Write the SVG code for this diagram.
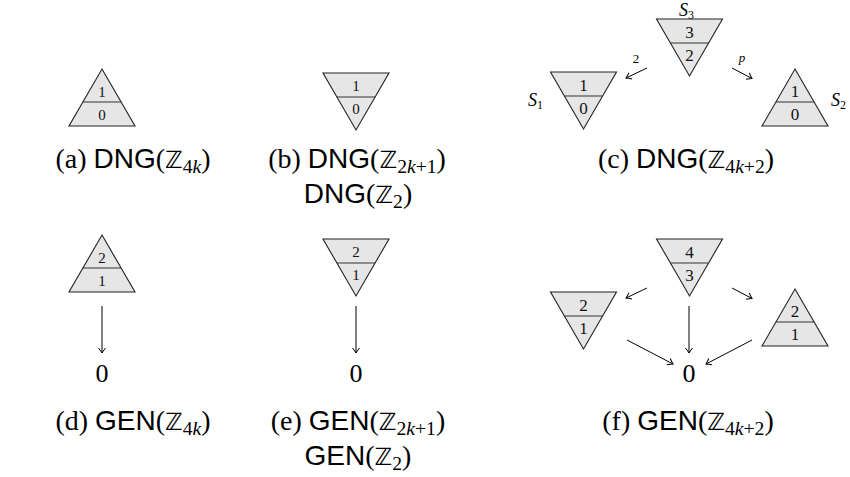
<svg xmlns="http://www.w3.org/2000/svg" width="850" height="477" viewBox="0 0 850 477">
<style>
.tri{fill:#e6e6e6;stroke:#222;stroke-width:1.1}
.div{stroke:#333;stroke-width:1.1;fill:none}
.lab{font-family:"Liberation Serif",serif;text-anchor:middle;fill:#111}
.s14{font-size:15px}
.s17{font-size:17px}
.capL{font-size:28px;text-anchor:middle;fill:#000}
.rm{font-family:"Liberation Serif",serif}
.sf{font-family:"Liberation Sans",sans-serif}
.bb{font-family:"DejaVu Sans",sans-serif;font-size:0.85em}
.sub{font-family:"Liberation Serif",serif;font-size:0.7em}
.it{font-style:italic}
.zero{font-family:"Liberation Serif",serif;font-size:26px;text-anchor:middle}
.arr{stroke:#000;stroke-width:1;fill:none;marker-end:url(#to)}
.sml{font-family:"Liberation Serif",serif;font-size:13px;text-anchor:middle}
.sl{font-family:"Liberation Serif",serif;font-size:18px;font-style:italic}
</style>
<defs>
<marker id="to" viewBox="-6 -5 8 10" markerWidth="8" markerHeight="10" refX="0" refY="0" orient="auto" markerUnits="userSpaceOnUse">
<path d="M-5,-3.5 Q-1.5,-0.8 0,0 Q-1.5,0.8 -5,3.5" fill="none" stroke="#000" stroke-width="1"/>
</marker>
</defs>

<!-- (a) -->
<g id="a-node">
<path class="tri" d="M102,69 L135,126 L69,126 Z"/>
<line class="div" x1="82.9" y1="102" x2="121.1" y2="102"/>
<text class="lab s14" x="102" y="96.5">1</text>
<text class="lab s14" x="102" y="119.5">0</text>
</g>
<text id="a-cap" class="capL" x="133" y="168"><tspan class="rm">(a) </tspan><tspan class="sf">DNG</tspan><tspan class="rm">(</tspan><tspan class="bb">ℤ</tspan><tspan class="sub" dy="5">4<tspan class="it">k</tspan></tspan><tspan class="rm" dy="-5">)</tspan></text>

<!-- (b) -->
<g id="b-node">
<path class="tri" d="M323,73 L389,73 L356,130 Z"/>
<line class="div" x1="336.9" y1="97" x2="375.1" y2="97"/>
<text class="lab s14" x="356" y="91">1</text>
<text class="lab s14" x="356" y="114">0</text>
</g>
<text id="b-cap1" class="capL" x="357" y="168"><tspan class="rm">(b) </tspan><tspan class="sf">DNG</tspan><tspan class="rm">(</tspan><tspan class="bb">ℤ</tspan><tspan class="sub" dy="5">2<tspan class="it">k</tspan>+1</tspan><tspan class="rm" dy="-5">)</tspan></text>
<text id="b-cap2" class="capL" x="358" y="203"><tspan class="sf">DNG</tspan><tspan class="rm">(</tspan><tspan class="bb">ℤ</tspan><tspan class="sub" dy="5">2</tspan><tspan class="rm" dy="-5">)</tspan></text>

<!-- (c) -->
<g id="c-s3">
<path class="tri" d="M656.5,19 L722.5,19 L689.5,76 Z"/>
<line class="div" x1="670.4" y1="43" x2="708.6" y2="43"/>
<text class="lab s17" x="689.5" y="37.5">3</text>
<text class="lab s17" x="689.5" y="60.5">2</text>
<text class="sl" x="679" y="16">S<tspan font-size="12" font-style="normal" dy="3">3</tspan></text>
</g>
<g id="c-s1">
<path class="tri" d="M550.5,72 L616.5,72 L583.5,129 Z"/>
<line class="div" x1="564.4" y1="96" x2="602.6" y2="96"/>
<text class="lab s17" x="583.5" y="90.5">1</text>
<text class="lab s17" x="583.5" y="113.5">0</text>
<text class="sl" x="528" y="106">S<tspan font-size="12" font-style="normal" dy="3">1</tspan></text>
</g>
<g id="c-s2">
<path class="tri" d="M795,69 L828,126 L762,126 Z"/>
<line class="div" x1="775.9" y1="102" x2="814.1" y2="102"/>
<text class="lab s17" x="795" y="96.5">1</text>
<text class="lab s17" x="795" y="119.5">0</text>
<text class="sl" x="831" y="106">S<tspan font-size="12" font-style="normal" dy="3">2</tspan></text>
</g>
<g id="c-edges">
<line class="arr" x1="647" y1="68" x2="626" y2="78"/>
<line class="arr" x1="732" y1="68" x2="752" y2="78.5"/>
<text class="sml" x="636" y="63">2</text>
<text class="sml it" x="742" y="62">p</text>
</g>
<text id="c-cap" class="capL" x="686" y="168"><tspan class="rm">(c) </tspan><tspan class="sf">DNG</tspan><tspan class="rm">(</tspan><tspan class="bb">ℤ</tspan><tspan class="sub" dy="5">4<tspan class="it">k</tspan>+2</tspan><tspan class="rm" dy="-5">)</tspan></text>

<!-- (d) -->
<g id="d-node">
<path class="tri" d="M102,235 L135,292 L69,292 Z"/>
<line class="div" x1="82.9" y1="268" x2="121.1" y2="268"/>
<text class="lab s14" x="102" y="262.5">2</text>
<text class="lab s14" x="102" y="285.5">1</text>
</g>
<g id="d-zero"><text class="zero" x="102" y="382">0</text></g>
<g id="d-edges"><line class="arr" x1="102" y1="306" x2="102" y2="353"/></g>
<text id="d-cap" class="capL" x="133" y="430"><tspan class="rm">(d) </tspan><tspan class="sf">GEN</tspan><tspan class="rm">(</tspan><tspan class="bb">ℤ</tspan><tspan class="sub" dy="5">4<tspan class="it">k</tspan></tspan><tspan class="rm" dy="-5">)</tspan></text>

<!-- (e) -->
<g id="e-node">
<path class="tri" d="M323,239 L389,239 L356,296 Z"/>
<line class="div" x1="336.9" y1="263" x2="375.1" y2="263"/>
<text class="lab s14" x="356" y="257">2</text>
<text class="lab s14" x="356" y="280">1</text>
</g>
<g id="e-zero"><text class="zero" x="356" y="382">0</text></g>
<g id="e-edges"><line class="arr" x1="356" y1="306" x2="356" y2="353"/></g>
<text id="e-cap1" class="capL" x="358" y="430"><tspan class="rm">(e) </tspan><tspan class="sf">GEN</tspan><tspan class="rm">(</tspan><tspan class="bb">ℤ</tspan><tspan class="sub" dy="5">2<tspan class="it">k</tspan>+1</tspan><tspan class="rm" dy="-5">)</tspan></text>
<text id="e-cap2" class="capL" x="358" y="465"><tspan class="sf">GEN</tspan><tspan class="rm">(</tspan><tspan class="bb">ℤ</tspan><tspan class="sub" dy="5">2</tspan><tspan class="rm" dy="-5">)</tspan></text>

<!-- (f) -->
<g id="f-top">
<path class="tri" d="M656.5,239 L722.5,239 L689.5,296 Z"/>
<line class="div" x1="670.4" y1="263" x2="708.6" y2="263"/>
<text class="lab s17" x="689.5" y="257.5">4</text>
<text class="lab s17" x="689.5" y="280.5">3</text>
</g>
<g id="f-left">
<path class="tri" d="M550.5,292 L616.5,292 L583.5,349 Z"/>
<line class="div" x1="564.4" y1="316" x2="602.6" y2="316"/>
<text class="lab s17" x="583.5" y="310.5">2</text>
<text class="lab s17" x="583.5" y="333.5">1</text>
</g>
<g id="f-right">
<path class="tri" d="M795,289 L828,346 L762,346 Z"/>
<line class="div" x1="775.9" y1="322" x2="814.1" y2="322"/>
<text class="lab s17" x="795" y="316.5">2</text>
<text class="lab s17" x="795" y="339.5">1</text>
</g>
<g id="f-zero"><text class="zero" x="689" y="382">0</text></g>
<g id="f-edges">
<line class="arr" x1="647" y1="288" x2="626" y2="298"/>
<line class="arr" x1="732" y1="288" x2="752" y2="298.5"/>
<line class="arr" x1="689" y1="306" x2="689" y2="353"/>
<line class="arr" x1="627" y1="340" x2="673" y2="364"/>
<line class="arr" x1="752" y1="340" x2="706" y2="364"/>
</g>
<text id="f-cap" class="capL" x="688" y="430"><tspan class="rm">(f) </tspan><tspan class="sf">GEN</tspan><tspan class="rm">(</tspan><tspan class="bb">ℤ</tspan><tspan class="sub" dy="5">4<tspan class="it">k</tspan>+2</tspan><tspan class="rm" dy="-5">)</tspan></text>
</svg>
